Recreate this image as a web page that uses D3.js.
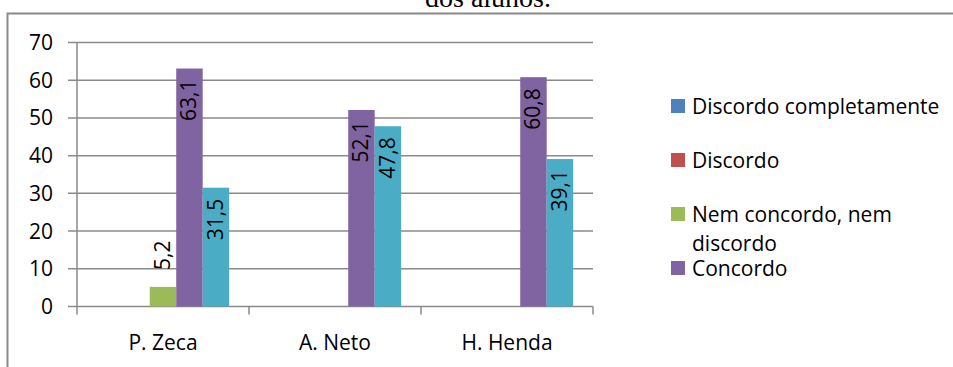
<!DOCTYPE html>
<html>
<head>
<meta charset="utf-8">
<script src="https://cdn.jsdelivr.net/npm/d3@7"></script>
<style>
  body { margin: 0; background: #fff; }
  svg { display: block; font-family: "Open Sans", sans-serif; }
</style>
</head>
<body>
<svg id="chart" width="953" height="367"></svg>
<script>
var categories = ["P. Zeca", "A. Neto", "H. Henda"];
var series = ["Discordo completamente", "Discordo", "Nem concordo, nem discordo", "Concordo", "Concordo completamente"];
var colors = ["#4f81bd", "#c0504d", "#9bbb59", "#8064a2", "#4bacc6"];
// values per series, in the order of categories
var discordoCompletamente = [0, 0, 0];
var discordo = [0, 0, 0];
var nemNem = [5.2, 0, 0];
var concordo = [63.1, 52.1, 60.8];
var concordoCompletamente = [31.5, 47.8, 39.1];
var yTicks = [0, 10, 20, 30, 40, 50, 60, 70];
var legendLines = [["Discordo completamente"], ["Discordo"], ["Nem concordo, nem", "discordo"], ["Concordo"]];

var values = [discordoCompletamente, discordo, nemNem, concordo, concordoCompletamente];

var svg = d3.select("#chart");

// frame + cut title
svg.append("text")
    .attr("x", 488).attr("y", 7)
    .attr("text-anchor", "middle")
    .style("font-family", "'Liberation Serif', serif")
    .style("font-size", "28px")
    .text("dos alunos.");

svg.append("path")
    .attr("d", "M7.5,367V13.5H953")
    .attr("fill", "none")
    .attr("stroke", "#898989")
    .attr("stroke-width", 2);

var x0 = d3.scaleBand()
    .domain(categories)
    .range([77, 593]);

var x1 = d3.scaleBand()
    .domain(series)
    .range([0, x0.bandwidth()])
    .paddingInner(0)
    .paddingOuter(0.75);

var y = d3.scaleLinear()
    .domain([0, 70])
    .range([306.5, 42.5]);

// gridlines + y ticks
var gy = svg.append("g");
gy.selectAll("line")
    .data(yTicks)
    .enter().append("line")
    .attr("x1", 68).attr("x2", 593)
    .attr("y1", d => y(d)).attr("y2", d => y(d))
    .attr("stroke", "#8a8a8a")
    .attr("stroke-width", 1.5);

gy.selectAll("text")
    .data(yTicks)
    .enter().append("text")
    .attr("x", 53)
    .attr("y", d => y(d))
    .attr("dy", "0.36em")
    .attr("text-anchor", "end")
    .style("font-size", "21px")
    .text(d => d);

// y axis line
svg.append("line")
    .attr("x1", 77).attr("x2", 77)
    .attr("y1", y(70)).attr("y2", y(0))
    .attr("stroke", "#8a8a8a").attr("stroke-width", 1.5);

// category ticks
var catEdges = categories.map(c => x0(c)).concat([x0.range()[1]]);
svg.selectAll(".ctick")
    .data(catEdges)
    .enter().append("line")
    .attr("class", "ctick")
    .attr("x1", d => d).attr("x2", d => d)
    .attr("y1", y(0)).attr("y2", y(0) + 8)
    .attr("stroke", "#8a8a8a").attr("stroke-width", 1.5);

svg.selectAll(".clabel")
    .data(categories)
    .enter().append("text")
    .attr("class", "clabel")
    .attr("x", d => x0(d) + x0.bandwidth() / 2)
    .attr("y", 350)
    .attr("text-anchor", "middle")
    .style("font-size", "21px")
    .text(d => d);

// bars
var bars = [];
categories.forEach(function(c, ci) {
    series.forEach(function(s, si) {
        bars.push({ cat: c, ser: s, si: si, v: values[si][ci] });
    });
});
var shown = bars.filter(d => d.v > 0);

svg.append("g").selectAll("rect")
    .data(shown)
    .enter().append("rect")
    .attr("x", d => x0(d.cat) + x1(d.ser))
    .attr("width", x1.bandwidth())
    .attr("y", d => y(d.v))
    .attr("height", d => y(0) - y(d.v))
    .attr("fill", d => colors[d.si]);

// value labels, rotated
function fmt(v) { return String(v).replace(".", ","); }
svg.append("g").selectAll("text")
    .data(shown)
    .enter().append("text")
    .attr("transform", function(d) {
        var cx = x0(d.cat) + x1(d.ser) + x1.bandwidth() / 2 + 7;
        var inside = d.v > 20;
        var ty = inside ? y(d.v) + 11 : y(d.v) - 17;
        return "translate(" + cx + "," + ty + ") rotate(-90)";
    })
    .attr("text-anchor", d => d.v > 20 ? "end" : "start")
    .style("font-size", "21px")
    .text(d => fmt(d.v));

// legend
var lg = svg.append("g");
var legendY = [106, 160, 214, 268];
legendLines.forEach(function(lines, i) {
    lg.append("rect")
        .attr("x", 671).attr("y", legendY[i] - 7)
        .attr("width", 14).attr("height", 14)
        .attr("fill", colors[i]);
    lines.forEach(function(t, j) {
        lg.append("text")
            .attr("x", 692)
            .attr("y", legendY[i] + j * 29)
            .attr("dy", "0.36em")
            .style("font-size", "21px")
            .text(t);
    });
});
</script>
</body>
</html>
